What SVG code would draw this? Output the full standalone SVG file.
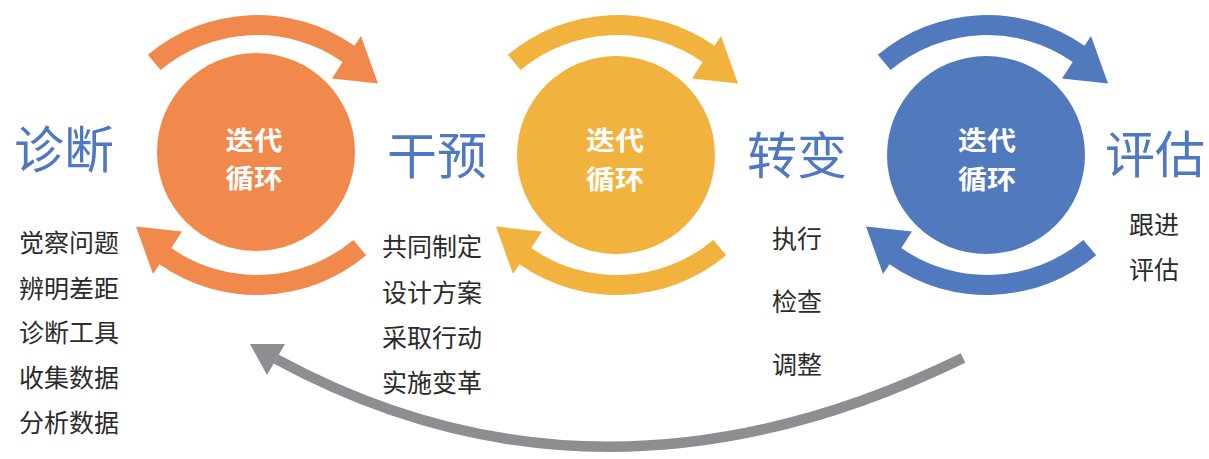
<svg xmlns="http://www.w3.org/2000/svg" xmlns:xlink="http://www.w3.org/1999/xlink" width="1209" height="459" viewBox="0 0 1209 459">
<style>
.title{font-family:"Noto Sans CJK SC","Noto Sans",sans-serif;font-size:50px;fill:#4E78C4;}
.item{font-family:"Noto Sans CJK SC","Noto Sans",sans-serif;font-size:25px;fill:#2B2B2B;}
.ctext{font-family:"Noto Sans CJK SC","Noto Sans",sans-serif;font-size:26.5px;font-weight:bold;fill:#FFFFFF;text-anchor:middle;}
.orange{fill:#F0894B;}
.yellow{fill:#F2B33E;}
.blue{fill:#5079BE;}
</style>
<defs>
<path id="arc" d="M147.8,54.8 A170 170 0 0 1 354.5,45.7 L361,36 L378,83.4 L332,78.5 L342.7,61.9 A150 150 0 0 0 160.6,70.1 Z"/>
</defs>
<rect width="1209" height="459" fill="#FFFFFF"/>
<g id="connectors">
<path d="M963,358 Q600,535 276,359" fill="none" stroke="#8E8E92" stroke-width="10.5"/>
<polygon points="250,344 285,344 267,375" fill="#8E8E92"/>
</g>
<g id="cycle1">
<use xlink:href="#arc" class="orange"/>
<use xlink:href="#arc" class="orange" transform="rotate(180 257 155)"/>
<circle cx="256" cy="152" r="99" class="orange"/>
<text class="ctext" x="254" y="149.5" textLength="57" lengthAdjust="spacingAndGlyphs">迭代</text>
<text class="ctext" x="254" y="188" textLength="57" lengthAdjust="spacingAndGlyphs">循环</text>
</g>
<g id="cycle2">
<use xlink:href="#arc" class="yellow" transform="translate(360 0)"/>
<use xlink:href="#arc" class="yellow" transform="translate(360 0) rotate(180 257 155)"/>
<circle cx="616" cy="155" r="99" class="yellow"/>
<text class="ctext" x="615" y="149.5" textLength="58" lengthAdjust="spacingAndGlyphs">迭代</text>
<text class="ctext" x="615" y="188.5" textLength="58" lengthAdjust="spacingAndGlyphs">循环</text>
</g>
<g id="cycle3">
<use xlink:href="#arc" class="blue" transform="translate(730 0)"/>
<use xlink:href="#arc" class="blue" transform="translate(730 0) rotate(180 257 155)"/>
<circle cx="986" cy="155" r="99" class="blue"/>
<text class="ctext" x="987" y="149.5" textLength="58" lengthAdjust="spacingAndGlyphs">迭代</text>
<text class="ctext" x="987" y="188.5" textLength="58" lengthAdjust="spacingAndGlyphs">循环</text>
</g>
<g id="diagnose">
<text class="title" x="14" y="167.5">诊断</text>
<text class="item" x="19" y="252">觉察问题</text>
<text class="item" x="19" y="297.5">辨明差距</text>
<text class="item" x="19" y="342">诊断工具</text>
<text class="item" x="19" y="387">收集数据</text>
<text class="item" x="19" y="432">分析数据</text>
</g>
<g id="intervene">
<text class="title" x="387" y="174">干预</text>
<text class="item" x="382" y="255.5">共同制定</text>
<text class="item" x="382" y="302">设计方案</text>
<text class="item" x="382" y="347">采取行动</text>
<text class="item" x="382" y="392">实施变革</text>
</g>
<g id="transform">
<text class="title" x="747" y="174">转变</text>
<text class="item" x="772" y="248">执行</text>
<text class="item" x="772" y="310.5">检查</text>
<text class="item" x="772" y="373.5">调整</text>
</g>
<g id="evaluate">
<text class="title" x="1105" y="173">评估</text>
<text class="item" x="1129" y="233.5">跟进</text>
<text class="item" x="1129" y="278.5">评估</text>
</g>
</svg>
